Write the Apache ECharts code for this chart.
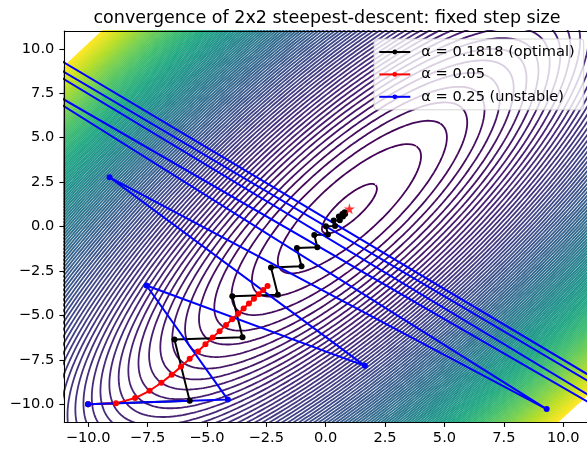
<!DOCTYPE html>
<html>
<head>
<meta charset="utf-8">
<script src="https://cdn.jsdelivr.net/npm/echarts@6/dist/echarts.min.js"></script>
<style>
  html, body { margin: 0; padding: 0; background: #fff; }
  #chart { width: 587px; height: 449px; }
</style>
</head>
<body>
<div id="chart"></div>
<script>
// tick labels
const xTicks = [-10, -7.5, -5, -2.5, 0, 2.5, 5, 7.5, 10];
const yTicks = [-10, -7.5, -5, -2.5, 0, 2.5, 5, 7.5, 10];

// iterates (points past the frame estimated from where the lines leave it)
const optimalPath = [
  [-10, -10], [-5.721, -9.811], [-6.364, -6.364], [-3.499, -6.237], [-3.929, -3.929],
  [-2.012, -3.845], [-2.300, -2.300], [-1.016, -2.243], [-1.209, -1.209], [-0.350, -1.171],
  [-0.479, -0.479], [0.096, -0.453], [0.010, 0.010], [0.395, 0.027], [0.337, 0.337],
  [0.595, 0.349], [0.556, 0.556], [0.729, 0.564], [0.703, 0.703], [0.819, 0.708], [0.801, 0.801]
];
const smallStepPath = [
  [-10, -10], [-8.825, -9.950], [-8.020, -9.651], [-7.413, -9.244], [-6.914, -8.793],
  [-6.479, -8.335], [-6.086, -7.884], [-5.722, -7.447], [-5.380, -7.029], [-5.059, -6.629],
  [-4.754, -6.249], [-4.465, -5.887], [-4.192, -5.543], [-3.933, -5.216], [-3.686, -4.905],
  [-3.452, -4.610], [-3.229, -4.329], [-3.018, -4.063], [-2.817, -3.809], [-2.626, -3.569], [-2.445, -3.341]
];
const unstablePath = [
  [-10, -10], [-4.116, -9.740], [-7.541, -3.322], [1.650, -7.841], [-9.096, 2.768],
  [9.303, -10.272], [-16.585, 11.443], [23.529, -19.513], [-35.680, 28.134],
  [53.856, -42.428], [-79.908, 64.096]
];
const minimum = [1, 1];

// the quadratic bowl behind the contours: curvatures along its two axes, long axis angle
const curvatures = [1, 10];
const longAxisDeg = 51.56;
// contour heights above the minimum
const levelStart = 1.5, levelStep = 8.65, levelCount = 120;

const viridis = ['#440154', '#482475', '#414487', '#355f8d', '#2a788e', '#21918c',
                 '#22a884', '#44bf70', '#7ad151', '#bddf26', '#fde725'];

function hexToRgb(h) {
  return [parseInt(h.slice(1, 3), 16), parseInt(h.slice(3, 5), 16), parseInt(h.slice(5, 7), 16)];
}
function viridisAt(t) {
  const p = t * (viridis.length - 1);
  const i = Math.min(Math.floor(p), viridis.length - 2);
  const f = p - i;
  const a = hexToRgb(viridis[i]), b = hexToRgb(viridis[i + 1]);
  const c = a.map((v, j) => Math.round(v + (b[j] - v) * f));
  return 'rgb(' + c.join(',') + ')';
}

const th = longAxisDeg * Math.PI / 180;
const v1 = [Math.cos(th), Math.sin(th)];
const v2 = [-Math.sin(th), Math.cos(th)];

const series = [];
for (let k = 0; k < levelCount; k++) {
  const g = levelStart + k * levelStep;
  const s1 = Math.sqrt(2 * g / curvatures[0]);
  const s2 = Math.sqrt(2 * g / curvatures[1]);
  const pts = [];
  const n = 720;
  for (let i = 0; i <= n; i++) {
    const t = i / n * 2 * Math.PI;
    const a = s1 * Math.cos(t), b = s2 * Math.sin(t);
    pts.push([minimum[0] + a * v1[0] + b * v2[0], minimum[1] + a * v1[1] + b * v2[1]]);
  }
  series.push({
    type: 'line',
    data: pts,
    showSymbol: false,
    silent: true,
    clip: true,
    z: 1,
    lineStyle: { width: 1.8, color: viridisAt(k / (levelCount - 1)) }
  });
}

function pathSeries(name, data, color) {
  return {
    name: name,
    type: 'line',
    data: data,
    symbol: 'circle',
    symbolSize: 6,
    showAllSymbol: true,
    clip: true,
    z: 3,
    lineStyle: { width: 2, color: color },
    itemStyle: { color: color },
    emphasis: { disabled: true }
  };
}

series.push(pathSeries('α = 0.1818 (optimal)', optimalPath, '#000000'));
series.push(pathSeries('α = 0.05', smallStepPath, '#ff0000'));
series.push(pathSeries('α = 0.25 (unstable)', unstablePath, '#0000ff'));
series.push({
  type: 'scatter',
  data: [minimum],
  symbol: 'path://M50,0 L61,35 L98,35 L68,57 L79,91 L50,70 L21,91 L32,57 L2,35 L39,35 Z',
  symbolSize: 11,
  itemStyle: { color: '#ff0000' },
  z: 4,
  silent: true
});

const fmt = v => (v < 0 ? '\u2212' : '') + Math.abs(v).toFixed(1);
const font = 'DejaVu Sans';

const chart = echarts.init(document.getElementById('chart'));
chart.setOption({
  animation: false,
  backgroundColor: '#fff',
  graphic: [{
    type: 'text',
    x: 327, y: 18.5,
    style: {
      text: 'convergence of 2x2 steepest-descent: fixed step size',
      font: '17.5px "DejaVu Sans"',
      fill: '#000',
      align: 'center',
      verticalAlign: 'middle'
    }
  }],
  grid: { left: 64.3, top: 31, width: 525.3, height: 391 },
  legend: {
    data: ['α = 0.1818 (optimal)', 'α = 0.05', 'α = 0.25 (unstable)'],
    orient: 'vertical',
    left: 374, top: 39,
    itemWidth: 31, itemHeight: 6, itemGap: 7.4,
    padding: [5.5, 9, 5.5, 4.3],
    backgroundColor: 'rgba(255,255,255,0.8)',
    borderColor: 'rgba(204,204,204,0.8)',
    borderWidth: 1,
    borderRadius: 3,
    selectedMode: false,
    z: 10,
    textStyle: { fontFamily: font, fontSize: 14.6, color: '#000', lineHeight: 14.3, padding: [0, 0, 0, 6] }
  },
  xAxis: [{
    type: 'value', min: -11, max: 11, z: 8,
    axisLine: { onZero: false, lineStyle: { color: '#000', width: 1.1 } },
    axisTick: { customValues: xTicks, length: 4.9, lineStyle: { color: '#000', width: 1.1 } },
    axisLabel: { customValues: xTicks, formatter: fmt, margin: 9, color: '#000', fontFamily: font, fontSize: 14.6 },
    splitLine: { show: false }
  }, {
    type: 'value', min: -11, max: 11, position: 'top', z: 8,
    axisLine: { onZero: false, lineStyle: { color: '#000', width: 1.1 } },
    axisTick: { show: false }, axisLabel: { show: false }, splitLine: { show: false }
  }],
  yAxis: [{
    type: 'value', min: -11, max: 11, z: 8,
    axisLine: { show: true, onZero: false, lineStyle: { color: '#000', width: 1.1 } },
    axisTick: { show: true, customValues: yTicks, length: 4.9, lineStyle: { color: '#000', width: 1.1 } },
    axisLabel: { customValues: yTicks, formatter: fmt, margin: 10, color: '#000', fontFamily: font, fontSize: 14.6 },
    splitLine: { show: false }
  }],
  series: series
});
</script>
</body>
</html>
